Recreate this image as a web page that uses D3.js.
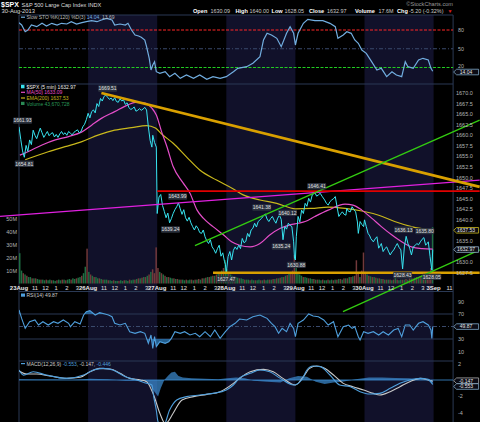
<!DOCTYPE html>
<html>
<head>
<meta charset="utf-8">
<script src="https://cdn.jsdelivr.net/npm/d3@7"></script>
<style>
  body { margin: 0; background: #000; }
  svg { display: block; font-family: "Liberation Sans", Arial, sans-serif; }
</style>
</head>
<body>
<svg id="chart" width="480" height="422"></svg>
<script>
// ---- data (bar = 5 min bar number, 78 bars per session) ----
const dayStarts = [0, 78, 156, 234, 312, 390, 468];
const dayLabels = ["23Aug", "26Aug", "27Aug", "28Aug", "29Aug", "30Aug", "3Sep"];
const hourOffsets = [18, 30, 42, 54, 66];
const hourLabels = ["11", "12", "1", "2", "3"];

const price = [
  [0,1662.0],[2,1659.0],[4,1656.3],[6,1654.8],[8,1657.6],[10,1656.2],[12,1658.9],[14,1657.8],[16,1661.2],[18,1660.0],
  [20,1659.2],[22,1660.5],[24,1661.7],[26,1660.6],[28,1659.5],[30,1660.2],[32,1660.9],[34,1659.9],[36,1660.4],[38,1660.6],
  [40,1659.6],[42,1660.2],[44,1659.5],[46,1660.3],[48,1660.9],[50,1660.2],[52,1660.6],[54,1660.0],[56,1660.9],[58,1660.5],
  [60,1660.1],[62,1660.7],[64,1661.0],[66,1661.3],[68,1660.6],[70,1660.9],[72,1662.0],[74,1662.6],[76,1663.7],
  [78,1665.2],[80,1664.1],[82,1665.6],[84,1666.0],[86,1665.3],[88,1667.5],[90,1666.8],[92,1668.7],[94,1668.1],[96,1669.2],
  [98,1669.5],[100,1669.0],[102,1668.5],[104,1668.8],[106,1668.2],[108,1668.9],[110,1668.0],[112,1667.8],[114,1668.6],[116,1668.1],
  [118,1668.4],[120,1667.3],[122,1667.7],[124,1666.6],[126,1666.1],[128,1666.3],[130,1666.7],[132,1665.7],[134,1665.9],[136,1666.3],
  [138,1665.9],[140,1666.2],[142,1666.6],[144,1666.0],[146,1662.0],[148,1658.8],[150,1657.2],[151,1660.0],[153,1658.3],[155,1657.2],
  [156,1641.5],[158,1645.4],[160,1646.0],[162,1643.4],[164,1642.0],[166,1640.5],[168,1641.6],[170,1639.3],[172,1640.3],[174,1641.5],
  [176,1642.4],[178,1643.1],[180,1644.0],[182,1642.6],[184,1641.3],[186,1642.4],[188,1640.5],[190,1639.7],[192,1640.6],[194,1639.3],
  [196,1638.4],[198,1637.6],[200,1638.6],[202,1638.0],[204,1637.0],[206,1636.8],[208,1637.6],[210,1636.0],[212,1635.0],[214,1634.4],
  [216,1635.3],[218,1633.6],[220,1633.0],[222,1632.1],[224,1633.2],[226,1634.0],[228,1631.4],[230,1632.2],[232,1630.1],[233,1629.5],
  [234,1627.5],[236,1631.3],[238,1632.5],[240,1630.5],[242,1632.8],[244,1633.6],[246,1633.0],[248,1634.0],[250,1633.2],[252,1635.6],
  [254,1634.6],[256,1634.9],[258,1636.8],[260,1636.0],[262,1637.6],[264,1638.0],[266,1639.2],[268,1638.3],[270,1639.6],[272,1640.0],
  [274,1640.4],[276,1641.0],[278,1641.4],[280,1640.2],[282,1639.6],[284,1640.3],[286,1640.8],[288,1639.9],[290,1639.2],[292,1640.4],
  [294,1641.1],[296,1640.1],[298,1635.3],[300,1638.4],[302,1637.8],[304,1639.2],[306,1638.7],[308,1638.4],[310,1634.8],[311,1630.9],
  [312,1630.5],[313,1636.0],[315,1640.8],[317,1639.5],[319,1642.3],[321,1641.5],[323,1643.9],[325,1643.2],[327,1645.1],[329,1644.2],
  [331,1645.9],[334,1646.4],[336,1645.6],[338,1645.9],[340,1646.3],[342,1645.6],[345,1644.7],[347,1643.9],[349,1643.5],[351,1644.3],
  [353,1644.7],[355,1645.0],[357,1645.5],[359,1643.1],[361,1640.8],[363,1641.4],[365,1641.9],[367,1641.3],[369,1641.1],[370,1642.7],
  [372,1642.0],[374,1641.9],[376,1643.1],[378,1642.4],[380,1641.9],[382,1639.5],[383,1636.8],[385,1639.6],[387,1638.9],[389,1638.4],
  [390,1640.0],[392,1638.4],[394,1636.8],[396,1636.2],[397,1635.6],[400,1634.8],[402,1635.5],[404,1636.0],[406,1633.3],[408,1634.0],
  [409,1634.4],[411,1632.5],[413,1633.2],[415,1633.6],[417,1632.6],[419,1631.7],[421,1632.4],[423,1632.9],[425,1633.7],[427,1634.4],
  [429,1633.5],[431,1632.9],[433,1628.4],[435,1633.6],[437,1636.1],[439,1634.4],[441,1633.3],[443,1631.7],[445,1633.6],[447,1633.9],
  [449,1634.4],[451,1634.1],[453,1634.8],[455,1635.4],[457,1635.8],[459,1634.0],[461,1634.5],[462,1634.8],[464,1631.3],[466,1628.1],
  [467,1632.97]
];

const ma50 = [
  [1,1655.3],[10,1656.1],[26,1657.7],[41,1658.9],[56,1659.7],[71,1660.8],[82,1662.4],[93,1664.0],[108,1665.6],[123,1667.2],
  [131,1667.8],[142,1667.6],[150,1666.4],[155,1664.8],[161,1660.8],[167,1657.3],[174,1652.6],[185,1648.8],[193,1646.3],[201,1642.3],
  [208,1640.4],[219,1638.4],[231,1636.4],[240,1634.8],[249,1634.0],[261,1633.6],[272,1634.4],[283,1636.4],[295,1638.0],[306,1638.8],
  [315,1639.2],[323,1639.6],[334,1640.8],[349,1642.3],[368,1643.7],[377,1643.5],[387,1642.3],[398,1640.4],[409,1638.4],[421,1636.4],
  [432,1634.8],[443,1633.6],[455,1633.2],[467,1633.09]
];

const ema200 = [
  [7,1654.2],[33,1656.1],[52,1657.3],[71,1658.5],[90,1660.1],[108,1661.2],[127,1661.8],[144,1662.3],[154,1661.7],[161,1660.3],
  [174,1658.1],[189,1654.9],[204,1651.8],[223,1649.4],[242,1647.3],[253,1645.9],[272,1644.7],[291,1643.9],[312,1642.6],[330,1642.7],
  [349,1643.0],[368,1642.7],[387,1642.1],[406,1641.1],[424,1639.6],[443,1638.4],[467,1637.53]
];

// trendlines drawn on the price panel: [bar, price] end points
const downTrend = [[93, 1670.0], [520, 1647.8]];
const floorLine = [[219, 1627.5], [520, 1627.5]];
const redLine = [[156, 1646.8], [520, 1646.8]];
const magentaLine = [[-21.4, 1640.8], [520, 1649.4]];
const greenUpper = [[198.6, 1633.9], [520, 1663.6]];
const greenLower = [[365.7, 1618.3], [520, 1632.9]];

// high / low call-outs: [bar, price, side]
const priceCallouts = [
  [4,1661.93,"up"],[6,1654.81,"dn"],[100,1669.51,"up"],[179,1643.99,"up"],[171,1639.24,"dn"],
  [234,1627.47,"dn"],[274,1641.38,"up"],[303,1640.12,"up"],[296,1635.24,"dn"],[313,1630.88,"dn"],
  [336,1646.41,"up"],[434,1636.13,"up"],[458,1635.80,"up"],[433,1628.43,"dn"],[466,1628.05,"dn"]
];

// volume in millions per 10 minutes, sign = up / down bar
const volume = [
  [23.5,10,-8,7,-6,5,5,-4,4,-4,3.5,3,-3,3,2.5,-3,2.5,3,-2.5,2.5,2,-2.5,3,2.5,-3,3,-2.5,3,3.5,-3,4,3.5,-4,4.5,5,-6,8,13,-27],
  [9,-7,6,-5,5,4,-4,3.5,-3,3,3,-2.5,2.5,2,-2.5,2,2,-2,2.5,2,-2.5,2.5,2,-3,2.5,3,-3,3.5,-4,4,-4.5,5,-5,6,-7,9,-11,-8,-28],
  [-12,9,-8,7,-6,5,-5,4.5,4,-4,3.5,-3.5,3,-3,3,2.5,-3,2.5,3,-3,2.5,-3,3,-3.5,3,-4,4,-4.5,5,-5,5.5,-6,6,-7,8,-9,10,-12,18],
  [11,-8,7,6,-5,5,4.5,-4,4,3.5,-3,3,3,-2.5,3,2.5,-2.5,2.5,3,-2.5,2.5,-3,2.5,3,-3,3,-3.5,3.5,-4,4,-4.5,5,-5,6,-6.5,8,-9,-10,-22],
  [12,9,7,6,-5,5,4.5,-4,4,3.5,-3.5,3,-3,3,2.5,-3,2.5,2.5,-3,2.5,3,-2.5,3,-3,3.5,-3.5,3,-4,4,-4,5,-5,5.5,-6,-18,-8,5,-10,-24],
  [-9,7,-6,5.5,-5,5,-4.5,4,-4,3.5,-3.5,3,-3,3,-3,2.5,-3,6,-3,2.5,3,-3,3,-3.5,3,-4,4,-4,4.5,-5,5,-5.5,6,-6.5,7,-8,-9,-12,43.7]
];
const volTicks = [10, 20, 30, 40, 50];

const slowSto = [
  [0,91.7],[3,88],[7,77.3],[10,80],[14,88],[20,85.3],[26,90.7],[31,86.4],[37,90.7],[43,88],[48,90.7],[54,89.6],[59,93.3],
  [65,89.6],[71,91.7],[76,93.3],[82,94.9],[88,93.3],[93,96],[99,98.7],[105,96],[108,88],[114,89.6],[120,88],[123,90.7],
  [127,80],[131,72],[135,70.4],[138,68.3],[142,64],[144,53.3],[147,34.7],[149,16],[151,24],[153,29.3],[155,13.3],[159,10.7],
  [165,13.3],[170,5.3],[176,10.7],[182,2.7],[189,8],[197,2.7],[204,8],[212,1],[219,5.3],[227,2.7],[234,5.3],[242,13.3],
  [247,18.7],[257,21.3],[264,26.7],[272,37.3],[276,64],[280,74.7],[285,72],[291,66.7],[296,53.3],[302,74.7],[306,85.3],
  [310,74.7],[312,56],[315,74.7],[321,90.7],[326,97],[334,94.9],[343,94.9],[351,90.7],[357,85.3],[360,66.7],[366,72],
  [370,77.3],[375,74.7],[379,64],[383,58.7],[387,48],[392,42.7],[398,29.3],[404,16],[409,18.7],[415,5.3],[421,13.3],
  [426,8],[432,5.3],[436,29.3],[439,21.3],[445,18.7],[451,32],[456,34.7],[462,32],[465,18.7],[467,14.04]
];
const stoTicks = [80, 50, 20];

const rsi = [
  [0,76.4],[3,63],[7,47],[12,57.7],[18,60.4],[22,52.4],[27,57.7],[33,52.4],[39,57.7],[44,55.1],[50,60.4],[56,55.1],[58,49.7],
  [63,57.7],[69,54],[73,68.4],[76,73.7],[80,75.3],[86,68.4],[91,72.1],[97,70],[101,68.4],[105,65.7],[108,55.1],[114,52.4],
  [120,55.1],[125,41.7],[131,39.1],[137,41.7],[142,39.1],[146,23.1],[149,36.4],[151,15.1],[153,33.7],[155,17.7],[159,25.7],
  [165,23.1],[169,25.7],[172,31],[176,41.7],[182,39.1],[187,41.7],[193,36.4],[199,39.1],[204,33.7],[210,41.7],[216,33.7],
  [221,44.4],[227,31],[233,41.7],[238,49.7],[244,55.1],[249,62],[257,60.4],[264,65.7],[272,68.4],[276,65.7],[280,63],
  [285,55.1],[289,49.7],[293,39.1],[297,47],[302,41.7],[306,55.1],[310,47],[312,33.7],[315,55.1],[321,60.4],[327,70],
  [332,66.8],[338,65.7],[344,60.4],[349,52.4],[355,57.7],[360,33.7],[366,49.7],[372,52.4],[376,47],[379,49.7],[383,33.7],
  [385,28.4],[389,41.7],[394,39.1],[400,41.7],[406,36.4],[411,41.7],[417,36.4],[423,44.4],[428,47],[432,33.7],[436,52.4],
  [441,52.4],[445,44.4],[451,55.1],[456,57.7],[462,52.4],[465,44.4],[466,31],[467,49.87]
];
const rsiTicks = [90, 70, 30, 10];

const macd = [
  [0,1.22],[5,0.6],[16,1.0],[31,0.6],[54,0.2],[73,0.6],[84,1.22],[95,1.42],[106,1.22],[120,0.4],[133,0],[144,-0.4],
  [150,-0.6],[152,-2.0],[155,-3.7],[157,-5.1],[163,-5.6],[170,-3.66],[178,-2.44],[189,-2.03],[204,-1.83],[219,-1.63],
  [234,-1.22],[242,-0.61],[249,0.25],[261,0.81],[272,1.22],[283,1.0],[295,0.2],[310,-0.61],[319,0],[325,1.22],[332,1.7],
  [340,1.63],[351,0.61],[362,-0.61],[374,-0.82],[385,-1.42],[396,-1.71],[407,-1.63],[419,-1.02],[430,-0.41],[441,0],
  [453,0.2],[462,0.08],[467,-0.553]
];
const macdSignal = [
  [0,1.13],[9,0.73],[20,0.73],[35,0.49],[54,0.2],[69,0.33],[80,1.0],[91,1.42],[103,1.34],[114,0.81],[125,0.2],[137,0],
  [144,-0.2],[152,-1.83],[159,-4.06],[165,-5.3],[168,-5.1],[174,-4.06],[184,-2.44],[197,-2.03],[212,-1.75],[227,-1.42],
  [242,-0.41],[249,0.2],[261,1.0],[276,1.3],[287,1.0],[298,0.2],[312,-0.61],[321,0.4],[328,1.42],[336,1.7],[345,1.42],
  [355,0.61],[366,-0.41],[377,-0.82],[389,-1.22],[400,-1.63],[407,-1.83],[419,-1.42],[430,-0.82],[441,-0.2],[453,0.2],
  [462,0],[467,-0.147]
];
const macdHist = [
  [0,0.1],[20,0.05],[40,0.05],[60,0],[80,0.15],[100,0.1],[120,-0.1],[140,-0.1],[146,-0.3],[150,-1.0],[154,-1.6],[157,-2.0],
  [160,-1.0],[164,0],[168,0.5],[172,0.9],[176,1.0],[180,0.5],[185,0.3],[195,0.2],[210,0.15],[225,0.1],[235,0.2],[245,0.3],
  [255,0.2],[265,-0.1],[280,-0.2],[295,-0.3],[305,0.2],[315,0.5],[325,0.4],[335,-0.2],[345,-0.5],[355,-0.3],[365,-0.2],
  [380,0.1],[395,0.3],[410,0.3],[425,0.25],[440,0.2],[455,0.1],[462,-0.1],[467,-0.45]
];
const macdTicks = [2, -2, -4];

// ---- chart ----
const svg = d3.select("#chart");
const left = 19, right = 453.1;

const x = d3.scaleLinear().domain([0, 490]).range([left, right]);
const yS = d3.scaleLinear().domain([0, 100]).range([80, 17.5]);
const yP = d3.scaleLinear().domain([1627.5, 1670]).range([272.7, 93]);
const yV = d3.scaleLinear().domain([0, 10]).range([283.5, 270.6]);
const yR = d3.scaleLinear().domain([0, 100]).range([357.75, 295.25]);
const yM = d3.scaleLinear().domain([-2, 2]).range([396.4, 363.6]);

const borderCol = "#2a3954";
const axisText = "#b4b4b4";

svg.append("rect").attr("width", 480).attr("height", 422).attr("fill", "#000");

// alternating session shading
dayStarts.forEach(function (d, i) {
  if (i % 2 == 1 && i < dayStarts.length - 1) {
    svg.append("rect")
      .attr("x", x(d)).attr("width", x(dayStarts[i + 1]) - x(d))
      .attr("y", 15).attr("height", 407)
      .attr("fill", "#11112a");
  }
});

// clip paths per panel
const defs = svg.append("defs");
function clip(id, y0, y1) {
  defs.append("clipPath").attr("id", id)
    .append("rect").attr("x", left).attr("y", y0).attr("width", right - left).attr("height", y1 - y0);
}
clip("c-sto", 15, 84);
clip("c-price", 84, 283.5);
clip("c-rsi", 291.5, 361);
clip("c-macd", 361, 422);
clip("c-rsi-lo", yR(30), 361);
clip("c-rsi-hi", 291.5, yR(70));

// panel borders
[15, 84, 291.5, 361].forEach(function (y) {
  svg.append("line").attr("x1", left).attr("x2", right).attr("y1", y).attr("y2", y)
    .attr("stroke", borderCol).attr("stroke-width", 1);
});
[left, right].forEach(function (xx) {
  svg.append("line").attr("x1", xx).attr("x2", xx).attr("y1", 15).attr("y2", 422)
    .attr("stroke", borderCol).attr("stroke-width", 1);
});

// ---- header ----
svg.append("text").attr("x", 1).attr("y", 7.3).attr("fill", "#fff")
  .attr("font-size", 7).attr("font-weight", "bold").text("$SPX");
svg.append("text").attr("x", 21.5).attr("y", 7.3).attr("fill", "#ddd")
  .attr("font-size", 5.6).text("S&P 500 Large Cap Index INDX");
svg.append("text").attr("x", 1.5).attr("y", 12.7).attr("fill", "#ddd")
  .attr("font-size", 5.8).text("30-Aug-2013");
svg.append("text").attr("x", 453).attr("y", 6.3).attr("fill", "#9a9a9a")
  .attr("font-size", 5.6).attr("text-anchor", "end").text("\u00a9StockCharts.com");

const quoteKeys = ["Open", "High", "Low", "Close", "Volume", "Chg"];
const quoteVals = ["1630.09", "1640.00", "1628.05", "1632.97", "17.6M", "-5.20 (-0.32%)"];
const quoteKeyX = [193, 235.5, 271.5, 309, 355, 397];
const quoteValX = [210.5, 249.5, 284.5, 327, 378.5, 409];
quoteKeys.forEach(function (k, i) {
  svg.append("text").attr("x", quoteKeyX[i]).attr("y", 12.7).attr("fill", "#fff")
    .attr("font-size", 5.6).attr("font-weight", "bold").text(k);
  svg.append("text").attr("x", quoteValX[i]).attr("y", 12.7).attr("fill", "#ccc")
    .attr("font-size", 5.4).text(quoteVals[i]);
});
svg.append("text").attr("x", 447.5).attr("y", 12.5).attr("fill", "#e02020")
  .attr("font-size", 5).text("\u25bc");

// ---- slow stochastic panel ----
const sto = svg.append("g");
const refLine = function (g, y, col, dash) {
  g.append("line").attr("x1", left).attr("x2", right).attr("y1", y).attr("y2", y)
    .attr("stroke", col).attr("stroke-width", 1).attr("stroke-dasharray", dash);
};
refLine(sto, yS(80), "#ff2626", "3,1.5");
refLine(sto, yS(50), "#3a4a6c", "4,2,1,2");
refLine(sto, yS(20), "#22cc22", "3,1.5");

sto.append("path").datum(slowSto)
  .attr("clip-path", "url(#c-sto)")
  .attr("fill", "none").attr("stroke", "#72aee0").attr("stroke-width", 1.2)
  .attr("d", d3.line().x(d => x(d[0])).y(d => yS(d[1])));

stoTicks.forEach(function (t) {
  svg.append("text").attr("x", 458).attr("y", yS(t) + (t == 20 ? 0.3 : 2)).attr("fill", axisText)
    .attr("font-size", 5.3).text(t);
});

sto.append("line").attr("x1", 21).attr("x2", 25).attr("y1", 17.2).attr("y2", 17.2)
  .attr("stroke", "#72aee0").attr("stroke-width", 1.2);
const stoLeg = sto.append("text").attr("x", 26.5).attr("y", 19).attr("font-size", 5).attr("fill", "#bbb");
stoLeg.append("tspan").text("Slow STO %K(120) %D(3) ");
stoLeg.append("tspan").attr("fill", "#72aee0").text("14.04");
stoLeg.append("tspan").text(", 13.69");

// ---- price panel ----
const pr = svg.append("g");

// volume bars
volume.forEach(function (day, di) {
  day.forEach(function (v, j) {
    const b = dayStarts[di] + j * 2;
    pr.append("rect")
      .attr("x", x(b)).attr("width", x(2) - x(0) - 0.3)
      .attr("y", yV(Math.abs(v))).attr("height", yV(0) - yV(Math.abs(v)))
      .attr("fill", v >= 0 ? "#1f6e42" : "#73393b");
  });
});

volTicks.forEach(function (t) {
  svg.append("text").attr("x", 17).attr("y", yV(t) + 2).attr("fill", axisText)
    .attr("font-size", 5.5).attr("text-anchor", "end").text(t + "M");
});

pr.append("path").datum(ema200).attr("clip-path", "url(#c-price)")
  .attr("fill", "none").attr("stroke", "#c9b81c").attr("stroke-width", 1.2)
  .attr("d", d3.line().x(d => x(d[0])).y(d => yP(d[1])).curve(d3.curveMonotoneX));
pr.append("path").datum(ma50).attr("clip-path", "url(#c-price)")
  .attr("fill", "none").attr("stroke", "#e54ec9").attr("stroke-width", 1.2)
  .attr("d", d3.line().x(d => x(d[0])).y(d => yP(d[1])).curve(d3.curveMonotoneX));
pr.append("path").datum(price).attr("clip-path", "url(#c-price)")
  .attr("fill", "none").attr("stroke", "#38e4f0").attr("stroke-width", 1)
  .attr("d", d3.line().x(d => x(d[0])).y(d => yP(d[1])));

// annotations (not clipped, they run past the axis like the original)
const straight = d3.line().x(d => x(d[0])).y(d => yP(d[1]));
function trend(data, col, w) {
  pr.append("path").datum(data).attr("fill", "none")
    .attr("stroke", col).attr("stroke-width", w).attr("d", straight);
}
trend(magentaLine, "#e020e0", 1.3);
trend(redLine, "#e00000", 1.8);
trend(downTrend, "#d9a000", 2.8);
trend(floorLine, "#d9a000", 2.4);
trend(greenUpper, "#33cc11", 1.3);
trend(greenLower, "#33cc11", 1.3);

// high / low call-outs
priceCallouts.forEach(function (c) {
  const cx = x(c[0]);
  const cy = yP(c[1]) + (c[2] == "up" ? -6.5 : 6.5);
  pr.append("rect").attr("x", cx - 9.5).attr("y", cy - 3.2).attr("width", 19).attr("height", 6.4)
    .attr("rx", 1).attr("fill", "#2c3340").attr("opacity", 0.92);
  pr.append("text").attr("x", cx).attr("y", cy + 1.8).attr("text-anchor", "middle")
    .attr("font-size", 5).attr("fill", "#e0e0e0").text(c[1].toFixed(2));
});

// right axis price ticks (1637.5 and 1632.5 sit under the value tags)
d3.range(1627.5, 1670.1, 2.5).forEach(function (t) {
  if (t == 1637.5 || t == 1632.5) return;
  svg.append("text").attr("x", 456).attr("y", yP(t) + 2).attr("fill", axisText)
    .attr("font-size", 5.5).text(t.toFixed(1));
});

// legend
const lg = pr.append("g").attr("font-size", 5);
lg.append("rect").attr("x", 21).attr("y", 84.8).attr("width", 3.5).attr("height", 3.5).attr("fill", "#38e4f0");
lg.append("text").attr("x", 26.5).attr("y", 88.5).attr("fill", "#eee").text("$SPX (5 min) 1632.97");
lg.append("line").attr("x1", 21).attr("x2", 25).attr("y1", 92.3).attr("y2", 92.3).attr("stroke", "#e54ec9").attr("stroke-width", 1.2);
lg.append("text").attr("x", 26.5).attr("y", 94.2).attr("fill", "#e54ec9").text("MA(50) 1633.09");
lg.append("line").attr("x1", 21).attr("x2", 25).attr("y1", 98).attr("y2", 98).attr("stroke", "#c9b81c").attr("stroke-width", 1.2);
lg.append("text").attr("x", 26.5).attr("y", 99.9).attr("fill", "#c9b81c").text("EMA(200) 1637.53");
lg.append("rect").attr("x", 21).attr("y", 101.8).attr("width", 3.5).attr("height", 3.2).attr("fill", "#2a8a55");
lg.append("text").attr("x", 26.5).attr("y", 105.6).attr("fill", "#2a9a5a").text("Volume 43,670,728");

// ---- x axis labels ----
dayStarts.forEach(function (d, i) {
  svg.append("text").attr("x", x(d)).attr("y", 290).attr("text-anchor", "middle")
    .attr("font-size", 6).attr("font-weight", "bold").attr("fill", "#e8e8e8").text(dayLabels[i]);
  hourOffsets.forEach(function (h, k) {
    if (x(d + h) > right) return;
    svg.append("text").attr("x", x(d + h)).attr("y", 290).attr("text-anchor", "middle")
      .attr("font-size", 5.8).attr("fill", "#e0e0e0").text(hourLabels[k]);
  });
});

// ---- RSI panel ----
const rs = svg.append("g");
refLine(rs, yR(70), borderCol, null);
refLine(rs, yR(30), borderCol, null);
refLine(rs, yR(50), "#3a4a6c", "4,2,1,2");

rs.append("path").datum(rsi).attr("clip-path", "url(#c-rsi-lo)")
  .attr("fill", "#2f7fbf").attr("opacity", 0.75)
  .attr("d", d3.area().x(d => x(d[0])).y1(d => yR(d[1])).y0(yR(30)));
rs.append("path").datum(rsi).attr("clip-path", "url(#c-rsi-hi)")
  .attr("fill", "#2f7fbf").attr("opacity", 0.75)
  .attr("d", d3.area().x(d => x(d[0])).y1(d => yR(d[1])).y0(yR(70)));
rs.append("path").datum(rsi).attr("clip-path", "url(#c-rsi)")
  .attr("fill", "none").attr("stroke", "#4f9fdc").attr("stroke-width", 1.1)
  .attr("d", d3.line().x(d => x(d[0])).y(d => yR(d[1])));

rsiTicks.forEach(function (t) {
  svg.append("text").attr("x", 458).attr("y", yR(t) + 2).attr("fill", axisText)
    .attr("font-size", 5.5).text(t);
});
rs.append("rect").attr("x", 21).attr("y", 293.5).attr("width", 4).attr("height", 3.2).attr("fill", "#4f9fdc");
rs.append("text").attr("x", 26.5).attr("y", 297.3).attr("font-size", 5).attr("fill", "#ccc").text("RSI(14) 49.87");

// ---- MACD panel ----
const mc = svg.append("g");
mc.append("path").datum(macdHist).attr("clip-path", "url(#c-macd)")
  .attr("fill", "#3d8fd6").attr("opacity", 0.7)
  .attr("d", d3.area().x(d => x(d[0])).y0(yM(0)).y1(d => yM(d[1])));
mc.append("line").attr("x1", left).attr("x2", right).attr("y1", yM(0)).attr("y2", yM(0))
  .attr("stroke", "#3d8fd6").attr("stroke-width", 0.8);
mc.append("path").datum(macdSignal).attr("clip-path", "url(#c-macd)")
  .attr("fill", "none").attr("stroke", "#c8c8c8").attr("stroke-width", 1.1)
  .attr("d", d3.line().x(d => x(d[0])).y(d => yM(d[1])).curve(d3.curveMonotoneX));
mc.append("path").datum(macd).attr("clip-path", "url(#c-macd)")
  .attr("fill", "none").attr("stroke", "#4f9fdc").attr("stroke-width", 1.1)
  .attr("d", d3.line().x(d => x(d[0])).y(d => yM(d[1])).curve(d3.curveMonotoneX));

macdTicks.forEach(function (t) {
  svg.append("text").attr("x", 458).attr("y", yM(t) + 2).attr("fill", axisText)
    .attr("font-size", 5.5).text(t);
});
mc.append("line").attr("x1", 21).attr("x2", 25).attr("y1", 363.6).attr("y2", 363.6)
  .attr("stroke", "#4f9fdc").attr("stroke-width", 1.2);
const mLeg = mc.append("text").attr("x", 26.5).attr("y", 365.5).attr("font-size", 5).attr("fill", "#ccc");
mLeg.append("tspan").text("MACD(12,26,9) ");
mLeg.append("tspan").attr("fill", "#4f9fdc").text("-0.553");
mLeg.append("tspan").text(", -0.147, ");
mLeg.append("tspan").attr("fill", "#4f9fdc").text("-0.446");

// ---- last value tags on the right axis ----
function tag(y, label, col) {
  const g = svg.append("g");
  g.append("path")
    .attr("d", "M" + (right + 0.5) + "," + y + "l3,-2.8h22v5.6h-22z")
    .attr("fill", "#0b0b14").attr("stroke", col).attr("stroke-width", 0.8);
  g.append("text").attr("x", 466).attr("y", y + 1.8).attr("text-anchor", "middle")
    .attr("font-size", 5).attr("fill", "#e8e8e8").text(label);
}
tag(yS(14.04) + 0.8, "14.04", "#7fa8c8");
tag(yP(1637.53), "1637.53", "#c9b81c");
tag(yP(1632.97), "1632.97", "#8fb0c8");
tag(yR(49.87), "49.87", "#7fa8c8");
tag(yM(-0.147) - 0.5, "-0.147", "#aaaaaa");
tag(yM(-0.147) + 5.3, "-0.553", "#7fa8c8");
</script>
</body>
</html>
